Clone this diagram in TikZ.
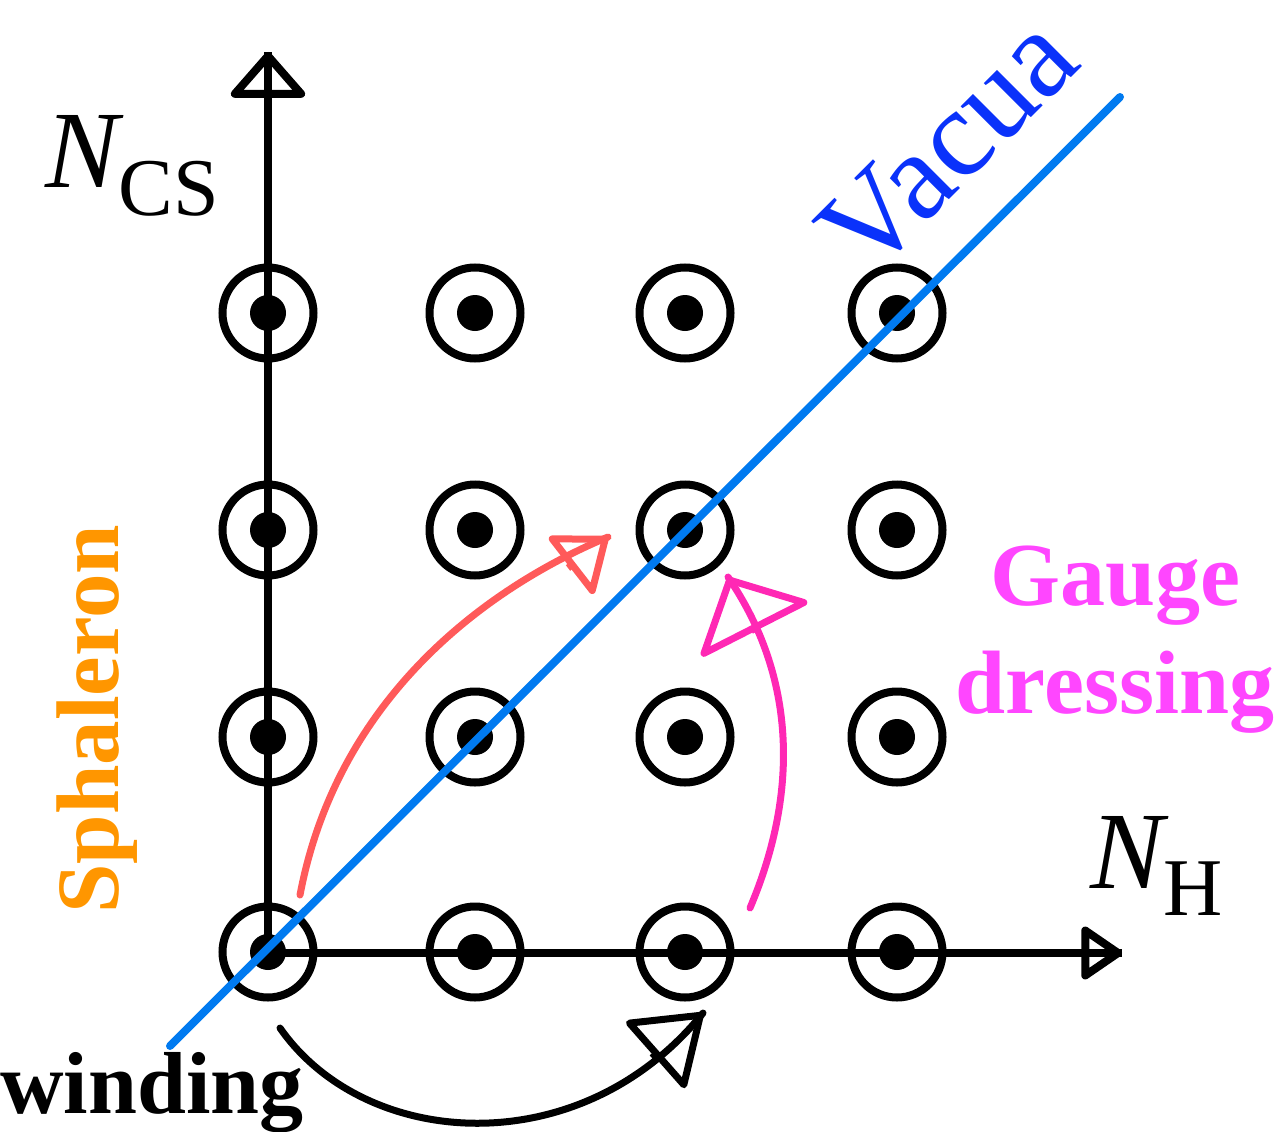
\documentclass[tikz,border=0pt]{standalone}
\usepackage{fontspec}
\setmainfont{Liberation Serif}
\usetikzlibrary{arrows.meta}
\definecolor{blueline}{RGB}{0,122,240}
\definecolor{vacuablue}{RGB}{10,50,250}
\definecolor{coral}{RGB}{255,90,90}
\definecolor{magarrow}{RGB}{255,40,180}
\definecolor{magtext}{RGB}{255,70,255}
\definecolor{sphorange}{RGB}{255,150,0}
\begin{document}
\begin{tikzpicture}[x=1pt,y=-1pt,
  ring/.style={circle, draw, line width=8pt, minimum size=91pt, inner sep=0pt},
  dotc/.style={circle, fill, minimum size=36pt, inner sep=0pt},
  thru/.style={postaction={draw,-}},
  axisline/.style={line width=8pt, thru},
  curvearrow/.style={line width=7pt, line cap=round},
  headonly/.style={line width=7pt}]
\useasboundingbox (0,0) rectangle (1277,1132);
% grid of vacua
\foreach \i/\x in {1/268,2/475,3/685,4/897}{
  \foreach \j/\y in {1/313,2/530,3/737,4/952}{
    \node[ring] (r\i\j) at (\x,\y) {};
    \node[dotc] (d\i\j) at (\x,\y) {};
  }
}
% axes
\coordinate (O) at (268,953);
\coordinate (ytip) at (268,52);
\coordinate (xtip) at (1122,953);
\draw[axisline, -{Triangle[open,round,length=48pt,width=82pt]}] (O) -- (ytip);
\draw[axisline, -{Triangle[open,round,length=44pt,width=58pt]}] (O) -- (xtip);
% vacua line
\coordinate (bl0) at (170,1046);
\coordinate (bl1) at (1120,97);
\draw[blueline, line width=8pt, line cap=round] (bl0) -- (bl1);
% sphaleron arrow
\coordinate (ra) at (300,895);
\coordinate (rb) at (608,537);
\coordinate (rh) at (568,568);
\draw[coral, curvearrow] (ra) .. controls (335,710) and (470,595) .. (rb);
\draw[coral, headonly, -{Triangle[open,round,length=51pt,width=78pt]}] (rh) -- (rb);
% gauge dressing arrow
\coordinate (ma) at (750,908);
\coordinate (mb) at (728,577);
\coordinate (mh) at (756,632);
\draw[magarrow, curvearrow] (ma) .. controls (800,790) and (795,675) .. (mb);
\draw[magarrow, headonly, -{Triangle[open,round,length=62pt,width=128pt]}] (mh) -- (mb);
% winding arrow
\coordinate (ka) at (280,1028);
\coordinate (kb) at (703,1013);
\coordinate (kh) at (652,1058);
\draw[black, curvearrow] (ka) .. controls (365,1150) and (580,1165) .. (kb);
\draw[black, headonly, -{Triangle[open,round,length=68pt,width=94pt]}] (kh) -- (kb);
% labels
\node[anchor=base west, inner sep=0pt, font=\fontsize{110}{110}\selectfont] (ncs) at (45,187)
  {\itshape N\normalfont\fontsize{82}{82}\selectfont\raisebox{-28pt}{CS}};
\node[anchor=base west, inner sep=0pt, font=\fontsize{110}{110}\selectfont] (nh) at (1090,888)
  {\itshape N\normalfont\fontsize{82}{82}\selectfont\raisebox{-27pt}{H}};
\node[rotate=45, anchor=base west, inner sep=0pt, text=vacuablue, font=\fontsize{125}{125}\selectfont] (vac) at (868,281) {Vacua};
\node[anchor=base, inner sep=0pt, text=magtext, font=\bfseries\fontsize{90}{90}\selectfont] (gauge) at (1115,605) {Gauge};
\node[anchor=base, inner sep=0pt, text=magtext, font=\bfseries\fontsize{90}{90}\selectfont] (dress) at (1115,713) {dressing};
\node[anchor=base west, inner sep=0pt, font=\bfseries\fontsize{88}{88}\selectfont] (wind) at (0,1113) {winding};
\node[rotate=90, anchor=base west, inner sep=0pt, text=sphorange, font=\bfseries\fontsize{89}{89}\selectfont] (sph) at (118,914) {Sphaleron};
\end{tikzpicture}
\end{document}
